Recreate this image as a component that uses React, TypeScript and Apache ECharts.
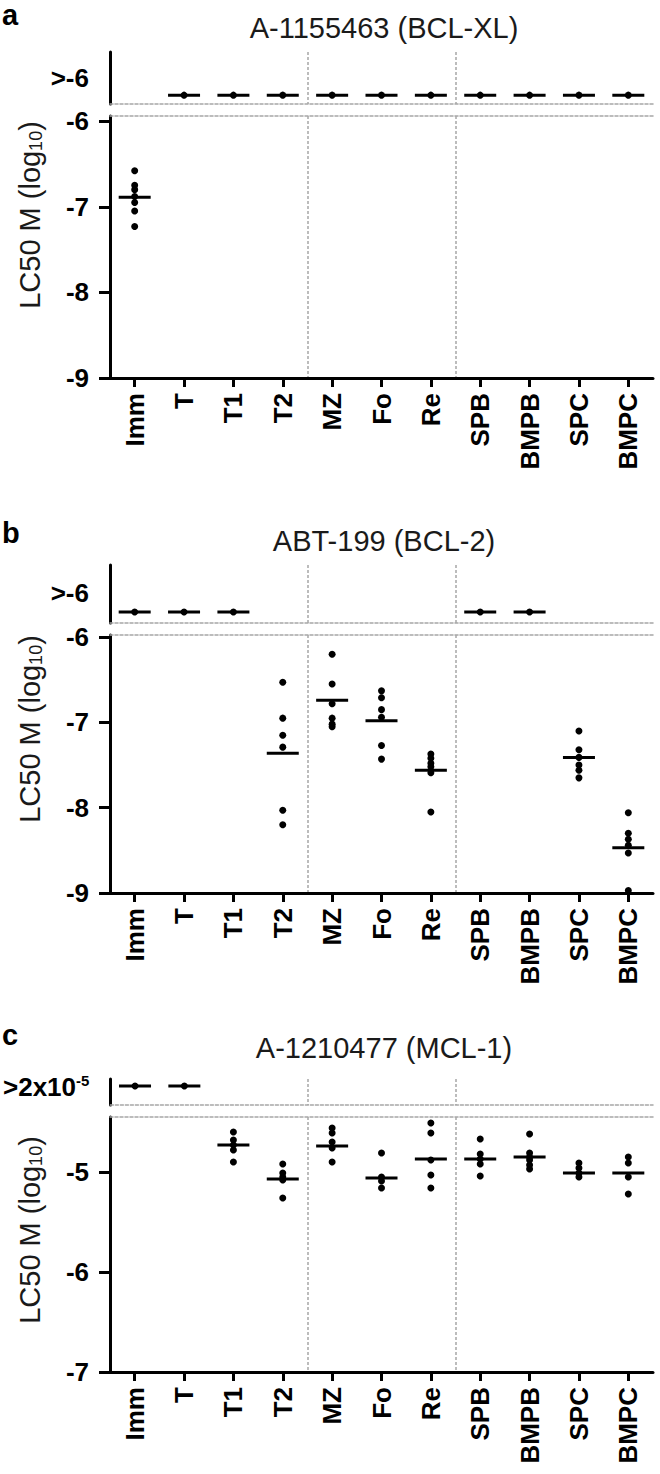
import React, { useEffect, useRef } from "react";
import * as echarts from "echarts";

// ---------- data ----------
const categories = ["Imm", "T", "T1", "T2", "MZ", "Fo", "Re", "SPB", "BMPB", "SPC", "BMPC"];
const separatorsBefore = ["MZ", "SPB"];

const titleA = "A-1155463 (BCL-XL)";
const titleB = "ABT-199 (BCL-2)";
const titleC = "A-1210477 (MCL-1)";
const panelLetters = ["a", "b", "c"];

const yTicksA = [-9, -8, -7, -6];
const yTicksB = [-9, -8, -7, -6];
const yTicksC = [-7, -6, -5];

const topLabelA = ">-6";
const topLabelB = ">-6";
const topLabelC = ">2x10{s|-5}";

// values per category (log10 M)
const valuesA: number[][] = [
  [-6.58, -6.75, -6.8, -6.88, -6.95, -7.05, -7.23],
  [], [], [], [], [], [], [], [], [], [],
];
const mediansA: (number | null)[] = [-6.89, null, null, null, null, null, null, null, null, null, null];
const aboveA: boolean[] = [false, true, true, true, true, true, true, true, true, true, true];

const valuesB: number[][] = [
  [], [], [],
  [-6.53, -6.95, -7.15, -7.29, -8.03, -8.2],
  [-6.2, -6.55, -6.78, -6.95, -7.02, -7.05],
  [-6.63, -6.71, -6.85, -6.94, -7.27, -7.43],
  [-7.37, -7.42, -7.48, -7.52, -7.59, -8.05],
  [], [],
  [-7.1, -7.32, -7.41, -7.5, -7.56, -7.65],
  [-8.06, -8.3, -8.37, -8.44, -8.53, -8.97],
];
const mediansB: (number | null)[] = [null, null, null, -7.36, -6.74, -6.98, -7.56, null, null, -7.41, -8.47];
const aboveB: boolean[] = [true, true, true, false, false, false, false, true, true, false, false];

const valuesC: number[][] = [
  [], [],
  [-4.6, -4.68, -4.73, -4.78, -4.9],
  [-4.92, -5.01, -5.05, -5.08, -5.26],
  [-4.56, -4.61, -4.7, -4.76, -4.9],
  [-4.81, -5.05, -5.09, -5.16],
  [-4.51, -4.61, -4.88, -5.03, -5.16],
  [-4.67, -4.82, -4.87, -4.92, -5.04],
  [-4.62, -4.81, -4.85, -4.88, -4.93, -4.97],
  [-4.91, -4.96, -5.01, -5.05],
  [-4.85, -4.91, -5.05, -5.22],
];
const mediansC: (number | null)[] = [null, null, -4.73, -5.07, -4.74, -5.06, -4.87, -4.87, -4.85, -5.01, -5.01];
const aboveC: boolean[] = [true, true, false, false, false, false, false, false, false, false, false];

// ---------- layout / style ----------
const FONT = "Arial, 'Liberation Sans', Helvetica, sans-serif";
const W = 660;
const H = 1474;
const GRID_LEFT = 110;
const GRID_WIDTH = 543;
const AXIS_X_TITLE = 30;
const TITLE_X = 384;

const panels = [
  {
    title: titleA, letter: panelLetters[0], values: valuesA, medians: mediansA, above: aboveA,
    ticks: yTicksA, topLabel: topLabelA, min: -9, max: -5.94,
    topGrid: { top: 52, height: 52 }, lowGrid: { top: 116, height: 262 },
    topPoint: 0.17, topLabelPos: 0.5, titleY: 28, letterY: 0, yTitleY: 215,
  },
  {
    title: titleB, letter: panelLetters[1], values: valuesB, medians: mediansB, above: aboveB,
    ticks: yTicksB, topLabel: topLabelB, min: -9, max: -5.975,
    topGrid: { top: 565, height: 58 }, lowGrid: { top: 635, height: 258 },
    topPoint: 0.19, topLabelPos: 0.52, titleY: 541, letterY: 518, yTitleY: 729,
  },
  {
    title: titleC, letter: panelLetters[2], values: valuesC, medians: mediansC, above: aboveC,
    ticks: yTicksC, topLabel: topLabelC, min: -7, max: -4.45,
    topGrid: { top: 1079, height: 26 }, lowGrid: { top: 1117, height: 255 },
    topPoint: 0.73, topLabelPos: 0.69, titleY: 1048, letterY: 1020, yTitleY: 1230,
  },
];

const dashed = { color: "#a6a6a6", width: 1.5, type: [3, 2] as number[] };
const sepInterval = (idx: number) => separatorsBefore.includes(categories[idx]);

function buildOption() {
  const grid: any[] = [];
  const xAxis: any[] = [];
  const yAxis: any[] = [];
  const series: any[] = [];
  const graphic: any[] = [];

  panels.forEach((p, pi) => {
    grid.push({ left: GRID_LEFT, width: GRID_WIDTH, top: p.topGrid.top, height: p.topGrid.height, containLabel: false });
    grid.push({ left: GRID_LEFT, width: GRID_WIDTH, top: p.lowGrid.top, height: p.lowGrid.height, containLabel: false });
    const gTop = pi * 2;
    const gLow = pi * 2 + 1;

    const splitSep = { show: true, interval: sepInterval, showMinLine: true, showMaxLine: false, lineStyle: dashed };

    // x axes
    xAxis.push({
      type: "category", gridIndex: gTop, data: categories, position: "bottom",
      axisLine: { show: true, lineStyle: dashed },
      axisTick: { show: false }, axisLabel: { show: false },
      splitLine: splitSep,
    });
    xAxis.push({
      type: "category", gridIndex: gLow, data: categories, position: "bottom",
      axisLine: { show: true, lineStyle: { color: "#000", width: 3 } },
      axisTick: { show: true, alignWithLabel: true, length: 9, lineStyle: { color: "#000", width: 3 } },
      axisLabel: {
        show: true, interval: 0, rotate: 90, margin: 15, color: "#000",
        fontFamily: FONT, fontWeight: "bold", fontSize: 26,
      },
      splitLine: splitSep,
    });
    xAxis.push({
      type: "category", gridIndex: gLow, data: categories, position: "top",
      axisLine: { show: true, lineStyle: dashed },
      axisTick: { show: false }, axisLabel: { show: false }, splitLine: { show: false },
    });

    // y axes
    yAxis.push({
      type: "value", gridIndex: gTop, min: 0, max: 1,
      axisLine: { show: true, lineStyle: { color: "#000", width: 3 } },
      axisTick: { show: false }, splitLine: { show: false },
      axisLabel: {
        show: true, customValues: [p.topLabelPos], formatter: () => p.topLabel,
        color: "#000", fontFamily: FONT, fontWeight: "bold", fontSize: 26, margin: 21,
        rich: { s: { fontFamily: FONT, fontWeight: "bold", fontSize: 15, color: "#000", padding: [0, 0, 14, 0] } },
      },
    });
    yAxis.push({
      type: "value", gridIndex: gLow, min: p.min, max: p.max,
      axisLine: { show: true, lineStyle: { color: "#000", width: 3 } },
      axisTick: { show: true, length: 11, customValues: p.ticks, lineStyle: { color: "#000", width: 3 } },
      splitLine: { show: false },
      axisLabel: {
        show: true, customValues: p.ticks, formatter: (v: number) => String(v),
        color: "#000", fontFamily: FONT, fontWeight: "bold", fontSize: 26, margin: 21,
      },
    });

    const xTop = pi * 3;
    const xLow = pi * 3 + 1;
    const yTop = pi * 2;
    const yLow = pi * 2 + 1;

    const lowPts: any[] = [];
    p.values.forEach((vals, ci) => vals.forEach((v) => lowPts.push([ci, v])));
    const lowMed: any[] = [];
    p.medians.forEach((m, ci) => { if (m !== null) lowMed.push([ci, m]); });
    const topPts: any[] = [];
    p.above.forEach((a, ci) => { if (a) topPts.push([ci, p.topPoint]); });

    const base = { type: "scatter", silent: true, itemStyle: { color: "#000", opacity: 1 } };
    series.push({ ...base, xAxisIndex: xLow, yAxisIndex: yLow, data: lowMed, symbol: "rect", symbolSize: [32, 3], z: 3 });
    series.push({ ...base, xAxisIndex: xLow, yAxisIndex: yLow, data: lowPts, symbol: "circle", symbolSize: 7, z: 4 });
    series.push({ ...base, xAxisIndex: xTop, yAxisIndex: yTop, data: topPts, symbol: "rect", symbolSize: [32, 3], z: 3 });
    series.push({ ...base, xAxisIndex: xTop, yAxisIndex: yTop, data: topPts, symbol: "circle", symbolSize: 7, z: 4 });

    graphic.push({
      type: "text", x: 2, y: p.letterY,
      style: { text: p.letter, fontFamily: FONT, fontWeight: "bold", fontSize: 29, fill: "#000", align: "left", verticalAlign: "top" },
    });
    graphic.push({
      type: "text", x: TITLE_X, y: p.titleY,
      style: { text: p.title, fontFamily: FONT, fontSize: 29, fill: "#1a1a1a", align: "center", verticalAlign: "middle" },
    });
    graphic.push({
      type: "text", x: AXIS_X_TITLE, y: p.yTitleY, rotation: Math.PI / 2,
      style: {
        text: "LC50 M (log{s|10})", fontFamily: FONT, fontSize: 29, fill: "#1a1a1a",
        align: "center", verticalAlign: "middle",
        rich: { s: { fontFamily: FONT, fontSize: 18, fill: "#1a1a1a", padding: [12, 0, 0, 0] } },
      },
    });
  });

  return {
    animation: false,
    backgroundColor: "#fff",
    grid, xAxis, yAxis, series, graphic,
  };
}

export default function App() {
  const ref = useRef<HTMLDivElement>(null);
  useEffect(() => {
    if (!ref.current) return;
    const chart = echarts.init(ref.current, undefined, { renderer: "svg", width: W, height: H });
    chart.setOption(buildOption() as any);
    return () => chart.dispose();
  }, []);
  return (
    <div
      ref={ref}
      style={{ position: "absolute", left: 0, top: 0, width: W, height: H, background: "#fff" }}
    />
  );
}
